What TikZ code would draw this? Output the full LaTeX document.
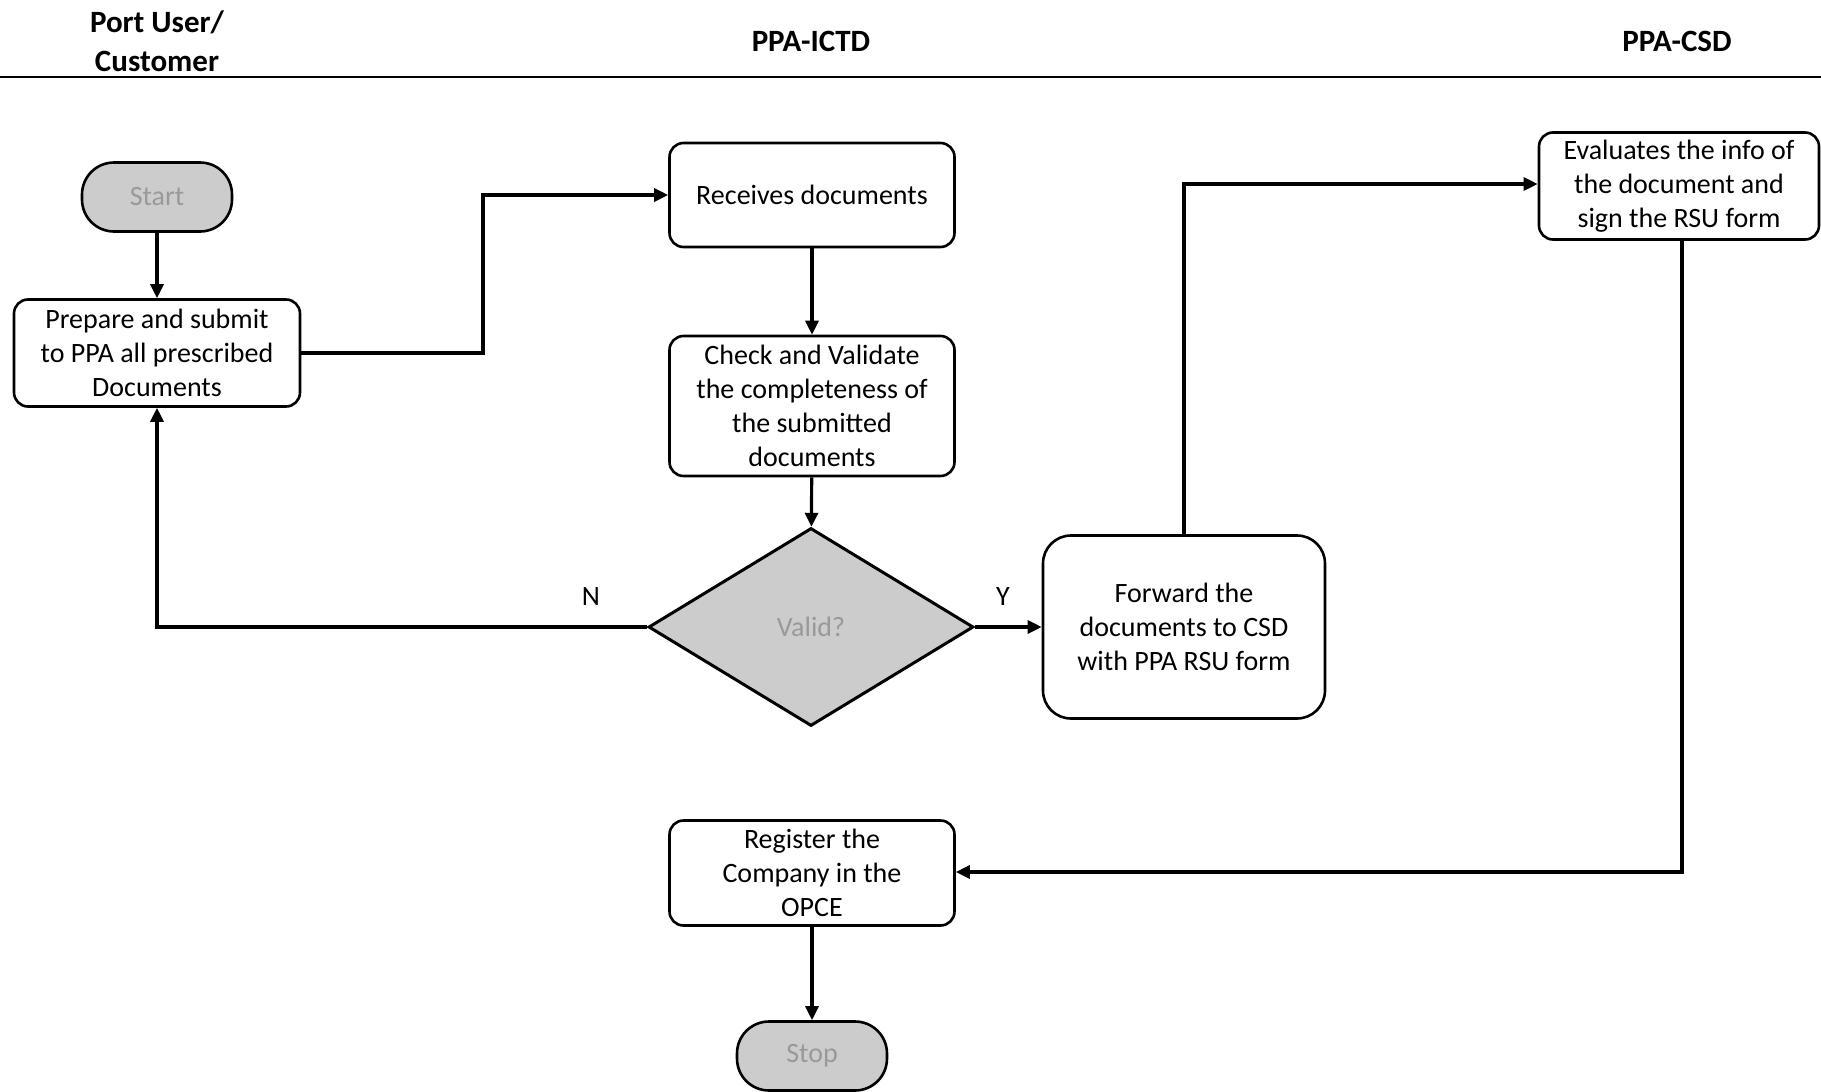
\documentclass[tikz,border=0pt]{standalone}
\usepackage{fontspec}
\setmainfont{Carlito}
\usetikzlibrary{shapes.geometric,arrows.meta}
\begin{document}
\begin{tikzpicture}[x=0.5pt,y=-0.5pt,
  every node/.style={font=\fontsize{14}{17}\selectfont, align=center},
  procbox/.style={draw=black, line width=1.3pt, rounded corners=7pt, fill=white, inner sep=2pt},
  termbox/.style={draw=black, line width=1.3pt, rounded corners=16pt, fill=black!20, text=black!40, inner sep=2pt, minimum width=75pt, minimum height=34.5pt},
  decbox/.style={draw=black, line width=1.5pt, diamond, fill=black!20, text=black!40, inner sep=0pt, minimum width=162.5pt, minimum height=99pt},
  hdr/.style={font=\fontsize{15.5}{19.5}\selectfont\bfseries},
  flow/.style={draw=black, line width=1.6pt, -{Triangle[length=7pt,width=6.5pt]}}
]
\useasboundingbox (0,0) rectangle (1821,1092);
% header
\node[hdr] (h1) at (157,41) {Port User/\\Customer};
\node[hdr] (h2) at (811,41) {PPA-ICTD};
\node[hdr] (h3) at (1677,41) {PPA-CSD};
\draw[line width=0.7pt] (0,77) -- (1821,77);

% nodes
\node[termbox] (start) at (157,197) {Start};
\node[procbox, minimum width=143pt, minimum height=53.5pt] (prep) at (157,353) {Prepare and submit\\to PPA all prescribed\\Documents};
\node[procbox, minimum width=142.5pt, minimum height=52pt] (recv) at (812,195) {Receives documents};
\node[procbox, minimum width=142.5pt, minimum height=70pt] (check) at (812,406) {Check and Validate\\the completeness of\\the submitted\\documents};
\node[decbox] (valid) at (811,627) {Valid?};
\node[procbox, minimum width=141pt, minimum height=91.5pt, rounded corners=14pt] (fwd) at (1184,627) {Forward the\\documents to CSD\\with PPA RSU form};
\node[procbox, minimum width=140pt, minimum height=53.5pt] (eval) at (1679,186) {Evaluates the info of\\the document and\\sign the RSU form};
\node[procbox, minimum width=142.5pt, minimum height=52.5pt] (reg) at (812,873) {Register the\\Company in the\\OPCE};
\node[termbox] (stop) at (812,1056) {Stop};

% connectors
\draw[flow] (start) -- (prep);
\draw[flow] (prep.east) -- (483,353) -- (483,195) -- (recv.west);
\draw[flow] (recv) -- (check);
\draw[flow] (check) -- (valid);
\draw[flow] (valid.west) -- (157,627) -- (prep.south);
\draw[flow] (valid.east) -- (fwd.west);
\draw[flow] (fwd.north) -- (1184,184) -- (eval.west |- 0,184);
\draw[flow] (eval.south -| 1682,0) -- (1682,872) -- (reg.east |- 0,872);
\draw[flow] (reg) -- (stop);

% labels
\node (n) at (591,597) {N};
\node (y) at (1003,597) {Y};
\end{tikzpicture}
\end{document}
